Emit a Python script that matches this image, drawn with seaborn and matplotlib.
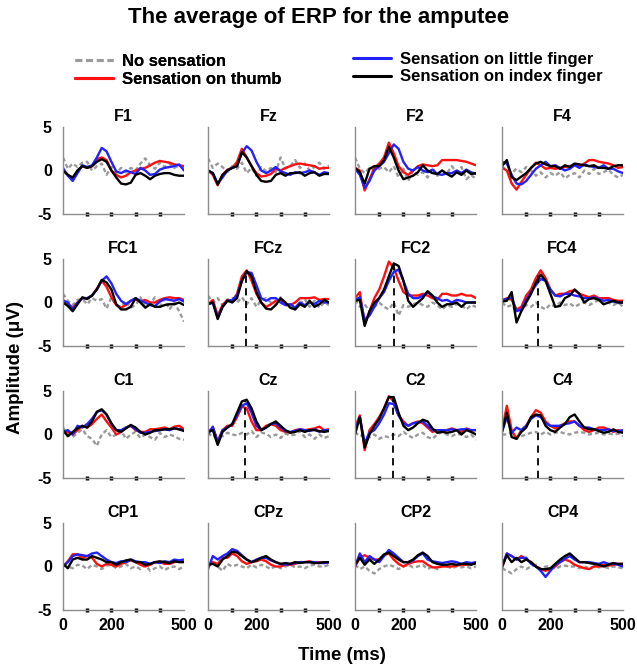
import numpy as np
import pandas as pd
import matplotlib
matplotlib.use("Agg")
import matplotlib.pyplot as plt
import seaborn as sns
from matplotlib.lines import Line2D

sns.set_theme(style="white")
plt.rcParams["font.family"] = ["Liberation Sans", "DejaVu Sans"]
plt.rcParams["font.weight"] = "bold"
for key in ["text.color", "axes.labelcolor", "xtick.color", "ytick.color"]:
    plt.rcParams[key] = "black"

# ---------------- data ----------------
time_ms = [0, 20, 40, 60, 80, 100, 120, 140, 160, 180, 200, 220, 240,
           260, 280, 300, 320, 340, 360, 380, 400, 420, 440, 460, 480, 500]

conditions = ["No sensation", "Sensation on thumb",
              "Sensation on little finger", "Sensation on index finger"]
channels = ["F1", "Fz", "F2", "F4", "FC1", "FCz", "FC2", "FC4",
            "C1", "Cz", "C2", "C4", "CP1", "CPz", "CP2", "CP4"]

# F1
f1_none = [1.5, 0.2, 0.8, 0.4, 0.9, 1.0, 0.0, 0.5, 0.8, -0.5, 0.4, -0.3, 0.3, -0.2, 0.3, 0.0, 0.8, 1.4, 0.6, 0.2, 0.9, 0.4, 0.8, 0.3, 0.6, 0.2]
f1_thumb = [0.0, -0.5, -1.0, 0.0, 0.5, 0.3, 0.5, 1.3, 1.5, 1.2, 0.0, -0.5, -0.8, -0.6, -0.2, 0.0, 0.2, 0.3, 0.6, 0.9, 1.1, 1.0, 0.9, 0.7, 0.6, 0.5]
f1_little = [0.3, -0.6, -1.2, -0.3, 0.6, 0.4, 0.6, 1.5, 2.6, 2.2, 1.0, -0.1, -0.3, 0.0, -0.2, -0.4, 0.3, 0.0, -0.5, -0.4, 0.1, 0.3, 0.4, 0.5, 0.7, 0.0]
f1_index = [0.0, -0.5, -0.8, 0.0, 0.5, 0.3, 0.5, 1.0, 1.3, 1.0, 0.0, -0.8, -1.5, -1.6, -1.4, -0.5, -0.3, -0.6, -1.0, -0.6, -0.4, -0.3, -0.3, -0.5, -0.6, -0.6]
# Fz
fz_none = [1.4, 0.3, 0.8, 0.4, -0.2, 0.5, 0.2, 0.9, -0.3, 0.3, -0.6, 0.4, -0.1, 0.3, -0.2, 1.5, 0.2, 0.5, 1.2, 0.3, 0.8, 0.0, 0.4, 0.9, 0.2, 0.6]
fz_thumb = [0.0, -0.5, -1.7, -0.5, 0.1, 0.3, 1.0, 2.5, 1.5, 0.5, -0.3, -0.7, -0.6, -0.4, 0.2, 0.0, 0.3, 0.5, 0.7, 0.8, 0.7, 0.6, 0.5, 0.2, 0.3, 0.3]
fz_little = [0.0, -0.3, -1.5, -0.8, 0.0, 0.3, 0.5, 2.0, 2.8, 2.3, 1.0, 0.0, -0.3, 0.0, 0.4, -0.1, -0.3, -0.5, -0.2, -0.3, -0.2, 0.0, -0.2, -0.5, -0.2, -0.3]
fz_index = [0.0, -0.3, -1.6, -0.5, 0.0, 0.3, 0.5, 2.1, 1.5, 0.5, -0.5, -1.2, -1.3, -1.2, -0.5, -0.3, -0.6, -0.3, -0.3, -0.2, -0.6, -0.3, -0.2, -0.6, -0.4, -0.4]
# F2
f2_none = [1.5, 0.2, -0.3, 0.3, 0.0, 0.2, 0.4, -0.2, 0.5, -0.8, 0.2, -1.2, 0.0, -0.5, -0.2, -0.8, 0.3, -0.6, 0.0, -0.3, 0.5, -0.2, 0.4, -1.0, -0.5, -1.0]
f2_thumb = [0.3, 0.0, -2.3, -1.0, 0.3, 0.8, 1.5, 3.2, 2.0, 0.5, -0.2, -0.5, 0.0, 0.5, 0.7, 0.6, 0.5, 0.6, 1.2, 1.2, 1.2, 1.2, 1.1, 1.0, 0.8, 0.6]
f2_little = [0.2, -0.5, -2.0, -1.2, 0.0, 0.5, 1.0, 2.0, 3.0, 2.5, 1.0, 0.2, 0.0, 0.4, 0.0, -0.2, 0.1, -0.4, -0.5, -0.3, -0.3, 0.0, -0.3, 0.1, -0.2, -0.4]
f2_index = [0.3, -0.2, -1.5, 0.2, 0.5, 0.5, 1.2, 2.7, 1.5, 0.0, -1.0, -0.8, -0.6, -0.2, 0.6, 0.0, -0.3, -0.4, 0.0, -0.4, -0.7, -0.2, -0.5, 0.0, -0.4, -0.3]
# F4
f4_none = [0.5, 0.0, -0.3, 0.2, -0.2, 0.4, 0.0, -0.6, -0.2, -0.8, -0.3, -0.6, -0.2, -0.9, -0.5, -0.3, -0.8, 0.0, -0.4, 0.2, -0.4, -0.2, 0.1, -0.5, -0.8, -0.5]
f4_thumb = [0.3, 0.0, -1.5, -2.2, -1.3, -0.5, 0.3, 0.9, 0.6, 0.2, 0.3, 0.2, 0.3, 0.4, 0.5, 0.7, 0.5, 0.8, 1.2, 1.2, 1.0, 0.9, 0.8, 0.6, 0.3, 0.4]
f4_little = [1.0, 0.8, -0.5, -1.5, -1.6, -1.2, -0.5, 0.2, 0.6, 1.0, 0.5, 0.6, 0.3, 0.0, 0.2, 0.6, 0.3, 0.7, 0.5, 0.4, 0.3, 0.6, 0.2, 0.2, -0.1, -0.3]
f4_index = [0.5, 1.2, -0.8, -1.1, -0.7, -0.3, 0.3, 0.8, 1.0, 0.7, 0.5, 0.5, 0.2, 0.6, 0.4, 0.8, 0.7, 0.6, 0.5, 0.6, 0.3, 0.3, 0.2, 0.5, 0.6, 0.6]
# FC1
fc1_none = [1.0, 0.2, -0.3, 0.3, 0.4, -0.2, 0.5, 0.2, 0.4, -0.7, 0.6, -0.3, -0.5, 0.2, -0.6, -0.3, 0.6, -0.5, -0.2, 0.6, -0.5, 0.4, -0.8, 0.0, -1.0, -2.2]
fc1_thumb = [0.3, -0.2, -0.6, 0.0, 0.5, 0.5, 0.8, 1.6, 2.5, 1.8, 0.6, -0.3, -0.6, -0.3, 0.2, 0.4, 0.1, 0.3, 0.0, 0.0, 0.3, 0.5, 0.6, 0.5, 0.5, 0.3]
fc1_little = [0.2, 0.0, -0.8, 0.0, 0.5, 0.5, 0.8, 1.5, 2.5, 3.0, 2.2, 1.0, 0.2, -0.2, 0.2, 0.5, 0.2, 0.0, -0.3, -0.4, 0.1, 0.4, 0.3, 0.2, 0.4, 0.1]
fc1_index = [0.0, -0.4, -1.0, -0.2, 0.6, 0.4, 0.8, 1.5, 2.6, 2.3, 1.5, -0.2, -0.8, -0.8, -0.5, 0.5, 0.0, -0.6, -0.2, -0.5, -0.5, -0.3, -0.2, -0.2, 0.0, -0.3]
# FCz
fcz_none = [0.8, 0.0, 0.5, -0.3, 0.3, 0.5, 0.0, 0.6, -0.2, 0.5, -0.5, 0.3, 0.5, 0.0, -0.3, 0.6, -0.4, 0.0, -0.8, -0.2, 0.4, -0.5, 0.2, -0.6, 0.0, -0.3]
fcz_thumb = [-0.2, 0.3, -1.5, -0.3, 0.3, 0.2, 1.0, 3.0, 3.7, 2.5, 1.0, 0.0, -0.5, -0.2, 0.2, 0.3, -0.2, -0.3, 0.0, 0.5, 0.5, 0.5, 0.6, 0.3, 0.4, 0.4]
fcz_little = [-0.2, 0.0, -1.7, -0.5, 0.2, 0.3, 0.8, 2.5, 3.5, 3.4, 2.0, 0.5, 0.2, 0.5, 0.5, 0.0, -0.3, -0.2, -0.6, 0.0, -0.3, 0.0, -0.2, 0.2, 0.0, 0.0]
fcz_index = [-0.2, 0.0, -1.9, -0.5, 0.2, 0.0, 0.5, 2.5, 3.6, 3.0, 1.2, 0.0, -0.7, -0.8, -0.3, 0.5, 0.0, -0.6, -0.8, -0.2, -0.5, 0.2, -0.5, -0.2, 0.3, 0.0]
# FC2
fc2_none = [0.3, -0.5, -0.2, -1.0, -0.5, 0.0, -0.5, -0.8, 0.0, -1.5, -0.3, -0.5, -0.2, 0.0, -0.3, -0.5, 0.0, -0.3, -0.8, -0.3, -0.5, -0.2, -0.3, -0.8, -0.3, -0.5]
fc2_thumb = [0.5, 1.2, -2.5, -1.0, 0.5, 1.5, 3.0, 4.7, 4.0, 2.5, 1.2, 0.8, 0.8, 0.8, 1.0, 0.8, 0.5, 0.3, 1.0, 1.0, 0.8, 0.8, 1.0, 0.8, 0.8, 0.5]
fc2_little = [0.3, 0.6, -2.0, -1.5, -0.5, 0.5, 1.2, 2.5, 3.5, 3.8, 2.5, 1.0, 0.5, 0.5, 0.8, 1.2, 0.7, 0.5, 0.2, 0.3, 0.0, 0.3, 0.2, 0.0, 0.0, 0.0]
fc2_index = [0.2, 0.3, -2.7, -1.0, 0.0, 0.5, 1.5, 3.0, 4.5, 4.2, 2.5, 0.2, -0.5, 0.0, 0.5, 1.3, 0.8, 0.0, -0.5, -0.2, -0.2, 0.0, -0.5, 0.0, 0.0, 0.0]
# FC4
fc4_none = [0.0, -0.5, -0.3, -1.0, -0.8, -0.3, -0.5, 0.0, -0.5, -0.8, -0.2, -0.5, 0.0, -0.3, -0.1, -0.5, -0.2, 0.0, -0.3, 0.0, 0.3, -0.2, 0.0, -0.3, 0.0, -0.5]
fc4_thumb = [0.2, 0.5, 0.3, -0.8, -0.5, 0.8, 1.5, 2.8, 3.7, 2.8, 1.5, 0.8, 1.0, 1.0, 1.3, 1.4, 1.0, 0.8, 0.6, 0.8, 0.5, 0.5, 0.5, 0.3, 0.2, 0.2]
fc4_little = [0.3, 0.4, 0.6, -1.0, -0.8, 0.3, 1.2, 2.0, 2.7, 2.5, 1.5, 0.8, 0.7, 1.0, 1.0, 0.8, 0.7, 0.5, 0.5, 0.6, 0.4, 0.2, 0.3, 0.1, 0.0, 0.0]
fc4_index = [0.1, 0.2, 1.2, -2.3, -1.0, 0.0, 1.0, 2.3, 3.2, 2.5, 1.0, -0.5, -0.4, 0.5, 0.8, 1.5, 1.0, 0.0, 0.4, 0.5, 0.3, -0.2, 0.0, 0.2, 0.0, 0.0]
# C1
c1_none = [0.8, 0.0, -0.3, 0.2, 0.6, -0.2, -0.5, -1.3, 0.0, 0.5, -0.3, 0.0, 0.5, -0.5, 0.0, 0.3, -0.4, 0.0, -0.3, -0.6, 0.2, -0.3, 0.0, -0.2, -0.5, -0.6]
c1_thumb = [0.2, 0.3, 0.0, 0.5, 1.0, 0.8, 1.2, 1.8, 2.3, 1.5, 0.8, 0.0, 0.3, 0.8, 1.0, 0.5, 0.3, 0.3, 0.6, 0.6, 0.7, 0.8, 0.6, 0.9, 1.0, 0.6]
c1_little = [0.3, 0.5, 0.0, 1.0, 0.8, 1.2, 1.8, 2.6, 2.8, 2.3, 1.2, 0.5, 0.5, 0.8, 1.0, 0.6, 0.2, 0.2, 0.3, 0.4, 0.5, 0.6, 0.5, 0.7, 0.6, 0.5]
c1_index = [0.5, -0.2, 0.3, 0.7, 1.0, 0.8, 1.5, 2.6, 2.9, 2.3, 1.3, 0.5, 0.3, 0.7, 1.1, 0.8, 0.3, 0.0, 0.2, 0.5, 0.5, 0.6, 0.6, 0.7, 0.6, 0.4]
# Cz
cz_none = [0.2, -0.3, 0.0, -0.2, 0.2, 0.0, -0.1, 0.2, 0.0, 0.4, -0.3, 0.2, 0.1, -0.3, 0.0, -0.4, 0.1, -0.1, 0.0, 0.4, -0.3, 0.0, -0.5, 0.0, -0.4, -0.2]
cz_thumb = [0.3, 0.8, -0.8, 0.5, 1.0, 1.0, 2.0, 3.2, 3.0, 1.5, 0.5, 0.5, 1.0, 1.2, 1.0, 0.5, 0.3, 0.2, 0.5, 0.6, 0.5, 0.6, 0.7, 0.9, 0.5, 0.6]
cz_little = [0.0, 0.9, -0.9, 0.5, 0.8, 1.2, 2.2, 3.3, 3.6, 2.5, 1.0, 0.5, 0.8, 1.2, 1.3, 0.8, 0.4, 0.3, 0.4, 0.6, 0.5, 0.4, 0.6, 0.3, 0.5, 0.5]
cz_index = [0.3, 0.5, -1.2, 0.3, 0.8, 1.2, 2.5, 3.8, 4.0, 3.0, 1.5, 0.5, 0.8, 1.2, 1.5, 1.0, 0.5, 0.2, 0.3, 0.5, 0.3, 0.5, 0.5, 0.4, 0.3, 0.4]
# C2
c2_none = [0.3, -0.2, 0.0, -0.3, 0.0, -0.5, -0.2, -0.3, 0.0, -0.2, 0.3, -0.1, -0.4, 0.0, 0.2, -0.3, -0.5, 0.0, 0.3, 0.0, -0.2, 0.1, 0.0, -0.3, 0.0, -0.6]
c2_thumb = [0.8, 2.2, -1.8, 0.5, 1.2, 2.0, 3.0, 4.4, 3.8, 2.2, 1.5, 1.0, 1.3, 1.5, 1.3, 0.8, 0.3, 0.5, 0.4, 0.5, 0.7, 0.5, 0.3, 0.7, 0.5, 0.5]
c2_little = [0.5, 2.0, -1.0, 0.2, 0.5, 1.3, 2.3, 3.6, 3.5, 2.2, 1.3, 1.0, 1.3, 1.4, 1.5, 1.0, 0.5, 0.5, 0.5, 0.5, 0.6, 0.5, 0.6, 0.6, 0.5, 0.5]
c2_index = [0.0, 2.0, -1.5, 0.0, 1.0, 1.8, 3.0, 4.3, 4.3, 2.5, 1.0, 0.5, 0.8, 1.3, 1.7, 1.5, 0.7, 0.2, 0.3, 0.2, 0.3, 0.5, 0.0, 0.5, 0.3, 0.0]
# C4
c4_none = [0.0, 0.0, 0.2, -0.3, -0.2, 0.0, 0.2, 0.3, 0.0, 0.3, 0.0, 0.2, 0.3, 0.1, 0.0, 0.2, 0.3, 0.2, 0.0, 0.1, 0.2, 0.0, 0.1, 0.0, 0.1, -0.2]
c4_thumb = [0.5, 3.3, 0.5, -0.5, 0.5, 1.0, 2.0, 2.8, 2.5, 1.5, 1.0, 0.7, 1.0, 1.3, 1.5, 1.5, 1.0, 0.5, 0.3, 0.5, 0.8, 0.8, 0.6, 0.3, 0.5, 0.3]
c4_little = [0.3, 2.0, 0.2, 0.8, 0.5, 1.0, 1.8, 2.2, 2.0, 1.3, 1.0, 1.0, 1.0, 1.2, 1.3, 1.5, 1.0, 0.8, 0.8, 0.6, 0.5, 0.5, 0.6, 0.4, 0.4, 0.5]
c4_index = [0.3, 2.5, -0.3, -0.5, 0.3, 0.8, 2.0, 2.3, 2.2, 1.0, 0.5, 0.3, 0.8, 1.2, 2.0, 2.3, 1.5, 0.8, 0.6, 0.6, 0.4, 0.2, 0.3, 0.6, 0.3, 0.2]
# CP1
cp1_none = [0.2, 0.0, -0.2, 0.2, 0.1, -0.3, 0.2, 0.0, -0.3, 0.1, 0.2, -0.2, 0.0, 0.3, -0.2, 0.0, -0.3, 0.2, -0.5, -0.2, 0.0, -0.4, -0.1, 0.0, -0.3, 0.0]
cp1_thumb = [0.0, 0.6, 1.4, 1.4, 1.0, 1.2, 1.0, 0.3, 0.0, 0.3, 0.2, 0.0, 0.3, 0.5, 0.7, 0.5, 0.2, 0.0, 0.2, 0.5, 0.5, 0.3, 0.3, 0.5, 0.6, 0.6]
cp1_little = [0.0, 0.5, 1.2, 1.4, 1.3, 1.2, 1.5, 1.6, 1.2, 0.8, 0.5, 0.4, 0.6, 0.5, 0.8, 0.6, 0.5, 0.5, 0.3, 0.5, 0.4, 0.6, 0.5, 0.8, 0.7, 0.8]
cp1_index = [0.3, -0.2, 0.8, 1.0, 0.8, 0.8, 1.2, 1.0, 0.8, 0.5, 0.5, 0.2, 0.5, 0.7, 0.8, 0.5, 0.5, 0.2, 0.3, 0.5, 0.6, 0.5, 0.4, 0.6, 0.5, 0.5]
# CPz
cpz_none = [0.0, 0.5, 0.0, -0.5, 0.3, 0.0, 0.2, 0.0, -0.2, 0.2, -0.1, 0.2, 0.0, -0.3, 0.1, -0.2, 0.0, 0.2, -0.1, 0.0, -0.2, 0.1, 0.2, 0.0, 0.0, 0.2]
cpz_thumb = [0.0, 0.5, 0.3, 1.0, 1.0, 1.5, 1.2, 0.6, 0.3, 0.5, 0.6, 0.8, 0.6, 0.2, 0.0, 0.0, 0.2, 0.2, 0.3, 0.5, 0.5, 0.6, 0.4, 0.5, 0.4, 0.5]
cpz_little = [-0.3, 1.2, 0.8, 1.2, 1.5, 2.0, 1.8, 1.3, 0.8, 0.5, 0.8, 1.0, 1.0, 0.7, 0.5, 0.3, 0.2, 0.3, 0.4, 0.5, 0.5, 0.5, 0.5, 0.4, 0.4, 0.5]
cpz_index = [0.2, 0.3, 0.0, 0.8, 1.2, 1.7, 1.6, 1.2, 0.8, 0.5, 0.7, 1.0, 1.2, 0.8, 0.5, 0.3, 0.4, 0.3, 0.5, 0.4, 0.5, 0.5, 0.4, 0.4, 0.5, 0.5]
# CP2
cp2_none = [0.2, -0.3, 0.0, -0.5, -0.8, -0.3, 0.0, 0.2, 0.0, -0.3, 0.0, 0.2, -0.1, 0.0, 0.2, -0.3, 0.0, -0.3, 0.1, 0.0, -0.2, 0.0, -0.1, 0.0, -0.2, 0.0]
cp2_thumb = [0.0, 1.0, 1.3, 1.0, 0.8, 0.8, 1.3, 1.5, 0.8, 0.3, 0.0, 0.3, 0.5, 0.6, 0.6, 0.2, -0.1, -0.1, 0.0, 0.0, 0.0, 0.1, 0.2, 0.2, 0.3, 0.3]
cp2_little = [0.0, 1.5, 0.5, 1.2, 0.8, 0.5, 1.2, 1.9, 1.5, 1.0, 0.5, 0.5, 0.7, 1.2, 1.5, 0.8, 0.6, 0.5, 0.4, 0.5, 0.6, 0.5, 0.3, 0.5, 0.4, 0.5]
cp2_index = [0.2, 1.0, 0.2, 0.8, 0.3, 0.8, 1.4, 1.6, 1.2, 0.8, 0.5, 0.5, 0.8, 1.3, 1.6, 1.2, 0.5, 0.3, 0.2, 0.2, 0.3, 0.2, 0.3, 0.3, 0.2, 0.4]
# CP4
cp4_none = [-0.2, -0.5, -0.8, -0.3, 0.0, -0.3, 0.0, 0.2, -0.3, 0.0, 0.0, -0.3, 0.0, 0.1, 0.0, 0.0, -0.2, 0.0, -0.2, 0.0, -0.1, 0.0, -0.2, 0.0, -0.1, -0.2]
cp4_thumb = [-0.2, 1.5, 1.2, 0.8, 1.2, 0.8, 0.5, 0.0, -0.3, -0.5, -0.3, 0.0, 0.5, 0.8, 0.6, 0.2, 0.0, -0.2, -0.3, 0.0, 0.0, 0.2, 0.1, 0.2, 0.3, 0.3]
cp4_little = [0.0, 1.5, 1.2, 0.8, 1.0, 1.0, 0.3, 0.0, -0.5, -1.2, -0.5, 0.2, 0.5, 0.9, 1.2, 0.8, 0.5, 0.5, 0.5, 0.4, 0.3, 0.5, 0.3, 0.3, 0.2, 0.0]
cp4_index = [0.0, 1.3, 0.5, 1.0, 0.5, 0.8, 0.5, 0.0, -0.3, -0.3, -0.2, 0.3, 0.8, 1.2, 1.5, 1.0, 0.5, 0.5, 0.4, 0.3, 0.2, 0.0, 0.2, 0.4, 0.3, 0.3]

# peak latency markers (dashed vertical lines)
marker_channels = ["FCz", "FC2", "FC4", "Cz", "C2", "C4"]
marker_time = [158, 160, 148, 152, 156, 150]
marker_peak = [3.6, 4.5, 3.2, 4.0, 4.3, 2.3]

# ---------------- build long table ----------------
series = {
    "F1": [f1_none, f1_thumb, f1_little, f1_index],
    "Fz": [fz_none, fz_thumb, fz_little, fz_index],
    "F2": [f2_none, f2_thumb, f2_little, f2_index],
    "F4": [f4_none, f4_thumb, f4_little, f4_index],
    "FC1": [fc1_none, fc1_thumb, fc1_little, fc1_index],
    "FCz": [fcz_none, fcz_thumb, fcz_little, fcz_index],
    "FC2": [fc2_none, fc2_thumb, fc2_little, fc2_index],
    "FC4": [fc4_none, fc4_thumb, fc4_little, fc4_index],
    "C1": [c1_none, c1_thumb, c1_little, c1_index],
    "Cz": [cz_none, cz_thumb, cz_little, cz_index],
    "C2": [c2_none, c2_thumb, c2_little, c2_index],
    "C4": [c4_none, c4_thumb, c4_little, c4_index],
    "CP1": [cp1_none, cp1_thumb, cp1_little, cp1_index],
    "CPz": [cpz_none, cpz_thumb, cpz_little, cpz_index],
    "CP2": [cp2_none, cp2_thumb, cp2_little, cp2_index],
    "CP4": [cp4_none, cp4_thumb, cp4_little, cp4_index],
}
rows = []
for ch in channels:
    for cond, vals in zip(conditions, series[ch]):
        for t, v in zip(time_ms, vals):
            rows.append((ch, cond, t, v))
df = pd.DataFrame(rows, columns=["channel", "condition", "time", "amplitude"])

palette = {conditions[0]: "#9a9a9a", conditions[1]: "#ff1010",
           conditions[2]: "#2222ff", conditions[3]: "#000000"}
dashes = {conditions[0]: (1.8, 1.2), conditions[1]: "",
          conditions[2]: "", conditions[3]: ""}

# ---------------- figure ----------------
W, H = 637, 671
fig = plt.figure(figsize=(W / 100, H / 100), dpi=100)

col_left = [63, 208, 355, 502]
row_top = [127, 259, 391, 523]
ax_w, ax_h = 121, 87

for i, ch in enumerate(channels):
    r, c = divmod(i, 4)
    ax = fig.add_axes([col_left[c] / W, 1 - (row_top[r] + ax_h) / H, ax_w / W, ax_h / H])
    sub = df[df["channel"] == ch]
    sns.lineplot(data=sub, x="time", y="amplitude", hue="condition",
                 style="condition", hue_order=conditions, style_order=conditions,
                 palette=palette, dashes=dashes, linewidth=1.7,
                 legend=False, ax=ax, estimator=None)
    if ch in marker_channels:
        k = marker_channels.index(ch)
        ax.plot([marker_time[k], marker_time[k]], [-5, marker_peak[k]],
                color="black", linestyle=(0, (4, 3)), linewidth=1.3, zorder=5)
    ax.set_xlim(0, 500)
    ax.set_ylim(-5, 5)
    ax.set_xlabel("")
    ax.set_ylabel("")
    ax.set_title(ch, fontsize=11.5, fontweight="bold", pad=4)
    for s in ["top", "right"]:
        ax.spines[s].set_visible(False)
    for s in ["left", "bottom"]:
        ax.spines[s].set_color("#8c8c8c")
        ax.spines[s].set_linewidth(1.0)
    ax.xaxis.remove_overlapping_locs = False
    ax.set_xticks([0, 200, 500])
    ax.set_xticks([100, 200, 300, 400], minor=True)
    ax.tick_params(axis="x", which="major", length=0, pad=6, labelsize=11.5)
    ax.tick_params(axis="x", which="minor", length=2.5, width=2.5,
                   direction="inout", color="black", bottom=True)
    ax.set_yticks([-5, 0, 5])
    ax.tick_params(axis="y", length=0, pad=8, labelsize=11.5)
    if c == 0:
        ax.set_yticklabels(["-5", "0", "5"], fontweight="bold")
    else:
        ax.set_yticklabels([])
    if r == 3:
        ax.set_xticklabels(["0", "200", "500"], fontweight="bold")
    else:
        ax.set_xticklabels([])
    ax.set_facecolor("white")

fig.text(0.5, 1 - 17 / H, "The average of ERP for the amputee",
         ha="center", va="center", fontsize=16, fontweight="bold")
fig.text(15 / W, 1 - 368 / H, "Amplitude (μV)", rotation=90,
         ha="center", va="center", fontsize=13.5, fontweight="bold")
fig.text(342 / W, 1 - 655 / H, "Time (ms)", ha="center", va="center",
         fontsize=13.5, fontweight="bold")

def handle(cond):
    return Line2D([], [], color=palette[cond], linewidth=2.2,
                  linestyle=(0, (2.2, 1.3)) if cond == conditions[0] else "-")

leg_kw = dict(loc="upper left", frameon=False, prop={"weight": "bold", "size": 12},
              handlelength=2.3, handletextpad=0.5, labelspacing=0.15,
              borderpad=0, borderaxespad=0)
leg1 = fig.legend([handle(conditions[0]), handle(conditions[1])], conditions[:2],
                  bbox_to_anchor=(75 / W, 1 - 54 / H), **leg_kw)
leg2 = fig.legend([handle(conditions[2]), handle(conditions[3])], conditions[2:],
                  bbox_to_anchor=(353 / W, 1 - 52 / H), **leg_kw)
fig.add_artist(leg1)

fig.savefig("out.png", dpi=100, facecolor="white")
